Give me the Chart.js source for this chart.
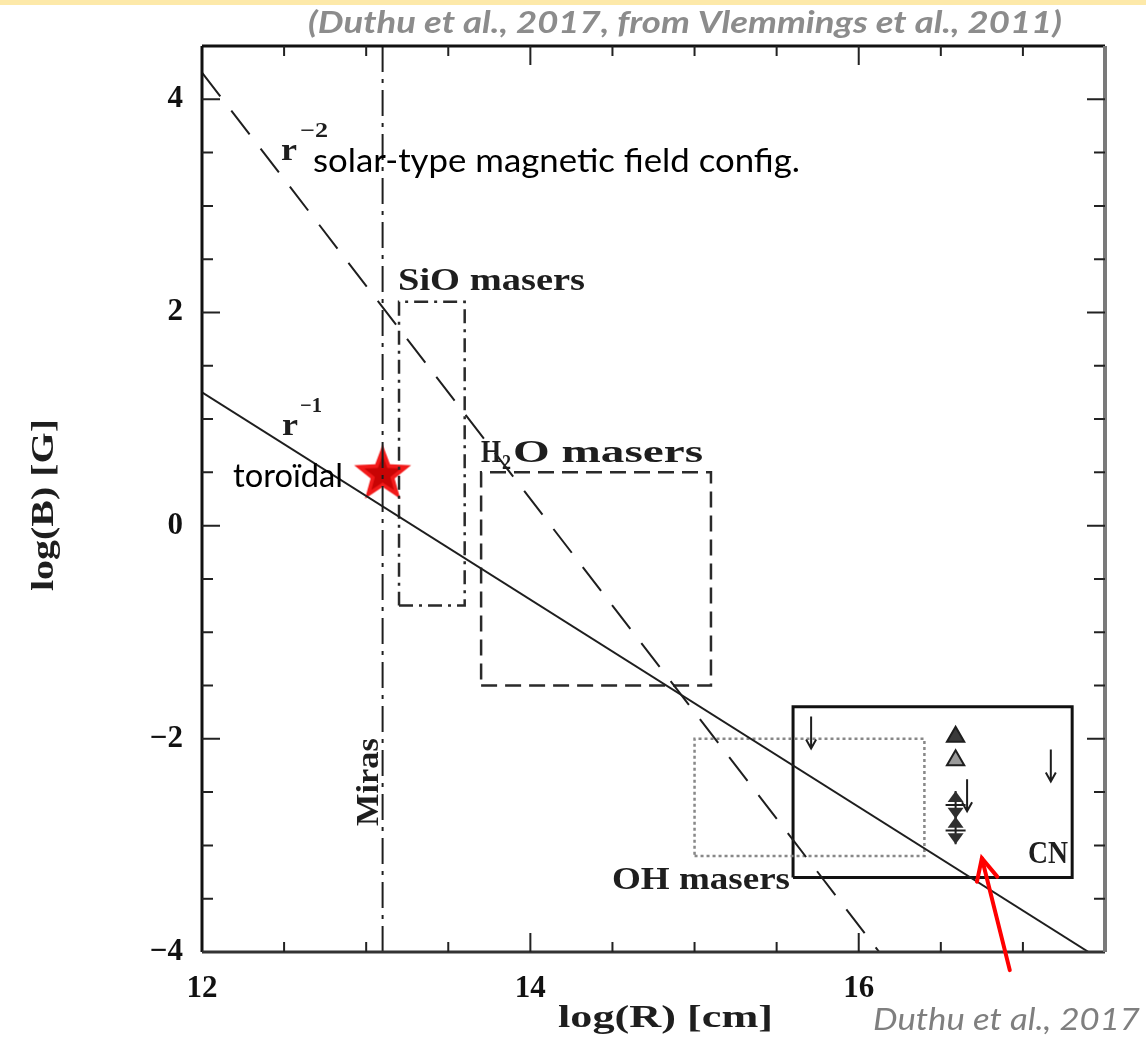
<!DOCTYPE html>
<html>
<head>
<meta charset="utf-8">
<title>Magnetic field strength vs. distance</title>
<script src="https://cdn.jsdelivr.net/npm/chart.js@4.4.1/dist/chart.umd.min.js"></script>
<style>
  html, body { margin: 0; padding: 0; background: #ffffff; }
  #wrap { position: relative; width: 1146px; height: 1040px; }
  canvas { display: block; }
</style>
</head>
<body>
<div id="wrap"><canvas id="c" width="1146" height="1040"></canvas></div>
<script>
// ---- axes: log(R) [cm] horizontally, log(B) [G] vertically ----
const logRRange = [12, 17.5];
const logBRange = [-4, 4.5];
const logRTickLabels = [12, 14, 16];
const logBTickLabels = [-4, -2, 0, 2, 4];

// ---- power-law field profiles (end points) ----
const rInv1LogR = [12, 17.4];      // B ~ r^-1 (toroidal)
const rInv1LogB = [1.25, -4];
const rInv2LogR = [12, 16.125];    // B ~ r^-2 (solar-type)
const rInv2LogB = [4.25, -4];

// ---- Mira stellar surface ----
const mirasLogR = 13.1;

// ---- maser and CN regions: SiO, H2O, OH, CN ----
const regionNames   = ['SiO masers', 'H2O masers', 'OH masers', 'CN'];
const regionLogRMin = [13.2, 13.7, 15.0, 15.6];
const regionLogRMax = [13.6, 15.1, 16.4, 17.3];
const regionLogBMin = [-0.75, -1.5, -3.1, -3.3];
const regionLogBMax = [2.1, 0.5, -2.0, -1.7];

// ---- CN measurements ----
const cnLimitLogR = [15.71, 16.66, 17.17];   // upper limits
const cnLimitLogB = [-1.79, -2.38, -2.10];
const cnTriLogR   = [16.59, 16.59];          // triangle estimates
const cnTriLogB   = [-1.98, -2.20];
const cnBarLogR   = [16.59, 16.59];          // values with error bars
const cnBarLogB   = [-2.62, -2.86];
const cnBarErr    = [0.13, 0.13];

// ---- this work ----
const starLogR = [13.1];
const starLogB = [0.48];

// pointer from the reference label to the CN measurements
const pointerLogR = [16.92, 16.75];
const pointerLogB = [-4.17, -3.12];

const INK = '#1e1e1e';

function pts(xs, ys) { return xs.map((x, i) => ({ x: x, y: ys[i] })); }
function boxPts(i) {
  const x0 = regionLogRMin[i], x1 = regionLogRMax[i], y0 = regionLogBMin[i], y1 = regionLogBMax[i];
  return [{x:x0,y:y0},{x:x1,y:y0},{x:x1,y:y1},{x:x0,y:y1},{x:x0,y:y0}];
}

// filled five-pointed star used as the point style for this work
function starImage(R) {
  const s = Math.ceil(R * 2 + 4);
  const c = document.createElement('canvas');
  c.width = s; c.height = s;
  const g = c.getContext('2d');
  const cx = s / 2, cy = s / 2;
  function path(r, rin) {
    g.beginPath();
    for (let i = 0; i < 10; i++) {
      const a = -Math.PI / 2 + i * Math.PI / 5;
      const rr = (i % 2) ? rin : r;
      g.lineTo(cx + rr * Math.cos(a), cy + rr * Math.sin(a));
    }
    g.closePath();
  }
  path(R, R * 0.42); g.fillStyle = '#f21a1a'; g.fill();
  path(R * 0.64, R * 0.27); g.fillStyle = '#c80404'; g.fill();
  return c;
}

function lineDs(data, dash, color, width) {
  return {
    type: 'scatter', data: data, showLine: true, tension: 0,
    borderColor: color, borderWidth: width, borderDash: dash,
    borderCapStyle: 'butt', pointRadius: 0, pointHoverRadius: 0, fill: false
  };
}

// fit a string to a given width (horizontal scaling only)
function fitText(ctx, str, x, y, width, font, color, rot) {
  ctx.save();
  ctx.font = font;
  ctx.fillStyle = color;
  ctx.textBaseline = 'alphabetic';
  ctx.textAlign = 'left';
  const w = ctx.measureText(str).width;
  ctx.translate(x, y);
  if (rot) ctx.rotate(rot);
  ctx.scale(width / w, 1);
  ctx.fillText(str, 0, 0);
  ctx.restore();
}

const figurePlugin = {
  id: 'figurePlugin',
  beforeDraw(chart) {
    const ctx = chart.ctx;
    ctx.save();
    ctx.fillStyle = '#ffffff';
    ctx.fillRect(0, 0, chart.width, chart.height);
    ctx.fillStyle = '#fde9a9';
    ctx.fillRect(0, 0, chart.width, 5);
    ctx.restore();
  },
  afterDatasetsDraw(chart) {
    const ctx = chart.ctx;
    const a = chart.chartArea;
    const xs = chart.scales.x, ys = chart.scales.y;
    const X = v => xs.getPixelForValue(v), Y = v => ys.getPixelForValue(v);
    ctx.save();
    ctx.lineCap = 'butt';

    // upper-limit arrows
    ctx.strokeStyle = INK; ctx.lineWidth = 2;
    cnLimitLogR.forEach((r, i) => {
      const px = X(r), y0 = Y(cnLimitLogB[i]), y1 = Y(cnLimitLogB[i] - 0.3);
      ctx.beginPath();
      ctx.moveTo(px, y0); ctx.lineTo(px, y1);
      ctx.moveTo(px - 5, y1 - 9); ctx.lineTo(px, y1); ctx.lineTo(px + 5, y1 - 9);
      ctx.stroke();
    });

    // values with error bars
    cnBarLogR.forEach((r, i) => {
      const px = X(r), yt = Y(cnBarLogB[i] + cnBarErr[i]), yb = Y(cnBarLogB[i] - cnBarErr[i]), yc = Y(cnBarLogB[i]);
      ctx.strokeStyle = INK; ctx.lineWidth = 2;
      ctx.beginPath(); ctx.moveTo(px, yt); ctx.lineTo(px, yb);
      ctx.moveTo(px - 10, yc); ctx.lineTo(px + 10, yc); ctx.stroke();
      ctx.fillStyle = '#2e2e2e';
      ctx.beginPath(); ctx.moveTo(px, yt); ctx.lineTo(px - 8, yt + 11); ctx.lineTo(px + 8, yt + 11); ctx.closePath(); ctx.fill();
      ctx.beginPath(); ctx.moveTo(px, yb); ctx.lineTo(px - 8, yb - 11); ctx.lineTo(px + 8, yb - 11); ctx.closePath(); ctx.fill();
    });

    // frame
    ctx.lineWidth = 3;
    ctx.strokeStyle = '#111';
    ctx.beginPath(); ctx.moveTo(a.left, a.top); ctx.lineTo(a.right, a.top); ctx.stroke();
    ctx.beginPath(); ctx.moveTo(a.left, a.top); ctx.lineTo(a.left, a.bottom); ctx.stroke();
    ctx.strokeStyle = '#333';
    ctx.beginPath(); ctx.moveTo(a.left, a.bottom); ctx.lineTo(a.right, a.bottom); ctx.stroke();
    ctx.strokeStyle = '#7a7a7a'; ctx.lineWidth = 4;
    ctx.beginPath(); ctx.moveTo(a.right, a.top); ctx.lineTo(a.right, a.bottom); ctx.stroke();

    // inward tick marks on all four sides
    ctx.lineWidth = 2; ctx.strokeStyle = '#222';
    xs.ticks.forEach(t => {
      const px = X(t.value);
      if (px <= a.left + 1 || px >= a.right - 1) return;
      const L = (Math.abs(t.value % 2) < 1e-9) ? 19 : 10;
      ctx.beginPath();
      ctx.moveTo(px, a.bottom); ctx.lineTo(px, a.bottom - L);
      ctx.moveTo(px, a.top); ctx.lineTo(px, a.top + L);
      ctx.stroke();
    });
    ys.ticks.forEach(t => {
      const py = Y(t.value);
      if (py <= a.top + 1 || py >= a.bottom - 1) return;
      const L = (Math.abs(t.value % 2) < 1e-9) ? 18 : 11;
      ctx.beginPath();
      ctx.moveTo(a.left, py); ctx.lineTo(a.left + L, py);
      ctx.moveTo(a.right, py); ctx.lineTo(a.right - L, py);
      ctx.stroke();
    });

    // pointer to the CN measurements
    const tx = X(pointerLogR[0]), ty = Y(pointerLogB[0]), hx = X(pointerLogR[1]), hy = Y(pointerLogB[1]);
    const ang = Math.atan2(ty - hy, tx - hx);
    ctx.strokeStyle = '#ff0000'; ctx.lineWidth = 4; ctx.lineCap = 'round';
    ctx.beginPath(); ctx.moveTo(tx, ty); ctx.lineTo(hx, hy); ctx.stroke();
    ctx.beginPath();
    ctx.moveTo(hx + 24 * Math.cos(ang - 0.45), hy + 24 * Math.sin(ang - 0.45));
    ctx.lineTo(hx, hy);
    ctx.lineTo(hx + 24 * Math.cos(ang + 0.45), hy + 24 * Math.sin(ang + 0.45));
    ctx.stroke();
    ctx.restore();
  },
  afterDraw(chart) {
    const ctx = chart.ctx;
    const serif = 'bold 32px "Liberation Serif"';
    const serifSup = 'bold 21px "Liberation Serif"';
    const sans = '32px Lato';

    // labels of the curves and regions
    fitText(ctx, 'r', 281, 160, 16, serif, INK);
    fitText(ctx, '\u22122', 300, 137, 28, serifSup, INK);
    fitText(ctx, 'solar-type magnetic field config.', 313, 172, 487, sans, '#000');
    fitText(ctx, 'SiO masers', 398, 290, 187, serif, INK);
    fitText(ctx, 'r', 282, 435, 16, serif, INK);
    fitText(ctx, '\u22121', 300, 412, 22, serifSup, INK);
    fitText(ctx, 'toroïdal', 233, 487, 110, sans, '#000');
    fitText(ctx, 'H', 481, 462, 20, serif, INK);
    fitText(ctx, '2', 502, 469, 9, serifSup, INK);
    fitText(ctx, 'O masers', 513, 462, 190, serif, INK);
    fitText(ctx, 'Miras', 378, 826, 88, serif, INK, -Math.PI / 2);
    fitText(ctx, 'OH masers', 612, 889, 178, serif, INK);
    fitText(ctx, 'CN', 1028, 863, 40, serif, INK);

    // axis titles
    fitText(ctx, 'log(R) [cm]', 558, 1027, 215, serif, INK);
    fitText(ctx, 'log(B) [G]', 53, 591, 172, serif, INK, -Math.PI / 2);

    // references
    fitText(ctx, '(Duthu et al., 2017, from Vlemmings et al., 2011)', 308, 33, 754, 'italic bold 30px Lato', '#8c8c8c');
    fitText(ctx, 'Duthu et al., 2017', 873, 1030, 267, 'italic 30px Lato', '#7f7f7f');
  }
};

const datasets = [
  lineDs(pts(rInv1LogR, rInv1LogB), [], INK, 2),
  lineDs(pts(rInv2LogR, rInv2LogB), [30, 18], INK, 2),
  lineDs([{x: mirasLogR, y: logBRange[0]}, {x: mirasLogR, y: logBRange[1]}], [26, 7, 4, 7], INK, 2),
  lineDs(boxPts(0), [14, 6, 3, 6], '#2a2a2a', 2.5),
  lineDs(boxPts(1), [16, 8], '#2a2a2a', 2.5),
  lineDs(boxPts(2), [3, 3], '#888888', 2.5),
  lineDs(boxPts(3), [], '#111111', 3),
  {
    type: 'scatter', data: pts(cnTriLogR, cnTriLogB), showLine: false,
    pointStyle: 'triangle', pointRadius: 10, pointBorderWidth: 2,
    pointBorderColor: INK, pointBackgroundColor: ['#3a3a3a', '#9a9a9a']
  },
  {
    type: 'scatter', data: pts(starLogR, starLogB), showLine: false,
    pointStyle: starImage(30), pointRadius: 30
  }
];

const tickFont = { family: 'Liberation Serif', size: 31, weight: 'bold' };

new Chart(document.getElementById('c'), {
  type: 'scatter',
  data: { datasets: datasets },
  options: {
    responsive: false,
    animation: false,
    events: [],
    layout: { padding: { left: 0, top: 46, right: 41, bottom: 0 } },
    plugins: { legend: { display: false }, tooltip: { enabled: false }, title: { display: false } },
    scales: {
      x: {
        type: 'linear', min: logRRange[0], max: logRRange[1],
        border: { display: false },
        grid: { display: true, drawOnChartArea: false, drawTicks: false },
        ticks: {
          stepSize: 0.5, autoSkip: false, maxRotation: 0, padding: 18, color: '#111', font: tickFont,
          callback: v => logRTickLabels.includes(v) ? String(v) : ''
        },
        afterFit: s => { s.height = 88; }
      },
      y: {
        type: 'linear', min: logBRange[0], max: logBRange[1],
        border: { display: false },
        grid: { display: true, drawOnChartArea: false, drawTicks: false },
        ticks: {
          stepSize: 0.5, autoSkip: false, padding: 19, color: '#111', font: tickFont,
          callback: v => logBTickLabels.includes(v) ? (v < 0 ? '\u2212' + Math.abs(v) : String(v)) : ''
        },
        afterFit: s => { s.width = 202; }
      }
    }
  },
  plugins: [figurePlugin]
});
</script>
</body>
</html>
